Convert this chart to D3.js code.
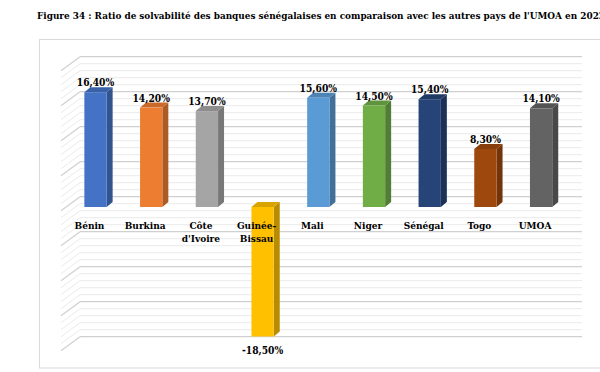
<!DOCTYPE html>
<html><head><meta charset="utf-8">
<script src="https://cdn.jsdelivr.net/npm/d3@7"></script>
<style>body{margin:0;background:#fff;}svg{display:block;}</style>
</head><body>
<svg id="c" width="600" height="372"></svg>
<script>
const title = "Figure 34 : Ratio de solvabilité des banques sénégalaises en comparaison avec les autres pays de l'UMOA en 2022";
const categories = ["Bénin","Burkina","Côte\nd'Ivoire","Guinée-\nBissau","Mali","Niger","Sénégal","Togo","UMOA"];
const values = [16.4, 14.2, 13.7, -18.5, 15.6, 14.5, 15.4, 8.3, 14.1];
const valueLabels = ["16,40%","14,20%","13,70%","-18,50%","15,60%","14,50%","15,40%","8,30%","14,10%"];
const colors = ["#4472C4","#ED7D31","#A5A5A5","#FFC000","#5B9BD5","#70AD47","#264478","#9E480E","#636363"];
const axisDomain = [-20, 20];
const minorStep = 1, majorStep = 5;

const svg = d3.select("#c");
const font = "'DejaVu Serif Condensed','DejaVu Serif',serif";

// title
svg.append("text").attr("x", 37).attr("y", 18.5)
  .attr("font-family", font).attr("font-stretch", "condensed").attr("font-weight", "bold").attr("font-size", 9.5)
  .attr("textLength", 568).attr("lengthAdjust", "spacingAndGlyphs")
  .attr("fill", "#000").text(title);

// frame
svg.append("rect").attr("x", 39.5).attr("y", 39.5).attr("width", 620).attr("height", 328.5)
  .attr("fill", "none").attr("stroke", "#D9D9D9").attr("stroke-width", 1);

// scales
const y = d3.scaleLinear().domain(axisDomain).range([347, 67]);  // bar front plane
const x = d3.scaleBand().domain(categories).range([67.65, 568.95]).paddingInner(0.6).paddingOuter(0.3);

// back wall & side wall
const wallShiftY = -10.3, wallLeft = 80, wallRight = 582, sideDx = -19, sideDy = 14;
const ticks = d3.range(axisDomain[0], axisDomain[1] + minorStep / 2, minorStep);
const wall = svg.append("g");
ticks.forEach(t => {
  const major = Math.abs(t % majorStep) < 1e-9;
  const yy = y(t) + wallShiftY;
  const col = major ? "#D0D0D0" : "#EBEBEB";
  wall.append("line").attr("x1", wallLeft).attr("x2", wallRight).attr("y1", yy).attr("y2", yy)
    .attr("stroke", col).attr("stroke-width", major ? 1.2 : 1);
  wall.append("line").attr("x1", wallLeft).attr("x2", wallLeft + sideDx).attr("y1", yy).attr("y2", yy + sideDy)
    .attr("stroke", col).attr("stroke-width", major ? 1.2 : 1);
});

// bars
const dx = 6, dy = 5;
const bars = svg.append("g");
categories.forEach((c, i) => {
  const v = values[i];
  const x0 = x(c), w = x.bandwidth();
  const yTop = y(Math.max(0, v)), yBot = y(Math.min(0, v));
  const base = d3.color(colors[i]);
  bars.append("polygon").attr("points", [[x0 + w, yTop], [x0 + w + dx, yTop - dy], [x0 + w + dx, yBot - dy], [x0 + w, yBot]].join(" "))
    .attr("fill", base.darker(0.9));
  bars.append("polygon").attr("points", [[x0, yTop], [x0 + dx, yTop - dy], [x0 + w + dx, yTop - dy], [x0 + w, yTop]].join(" "))
    .attr("fill", base.darker(0.45));
  bars.append("rect").attr("x", x0).attr("y", yTop).attr("width", w).attr("height", yBot - yTop)
    .attr("fill", base);
});

// value labels
categories.forEach((c, i) => {
  const v = values[i];
  const cx = x(c) + x.bandwidth() / 2;
  const yy = v >= 0 ? y(v) - 6 : y(v) + 17;
  svg.append("text").attr("x", cx).attr("y", yy).attr("text-anchor", "middle")
    .attr("font-family", font).attr("font-stretch", "condensed").attr("font-weight", "bold").attr("font-size", 10.2)
    .attr("fill", "#000").text(valueLabels[i]);
});

// category labels
categories.forEach((c, i) => {
  const cx = x(c) + x.bandwidth() / 2 - 6;
  const t = svg.append("text").attr("text-anchor", "middle")
    .attr("font-family", font).attr("font-stretch", "condensed").attr("font-weight", "bold").attr("font-size", 10).attr("fill", "#000");
  c.split("\n").forEach((line, j) => {
    t.append("tspan").attr("x", cx).attr("y", 229 + j * 12.5).text(line);
  });
});
</script>
</body></html>
